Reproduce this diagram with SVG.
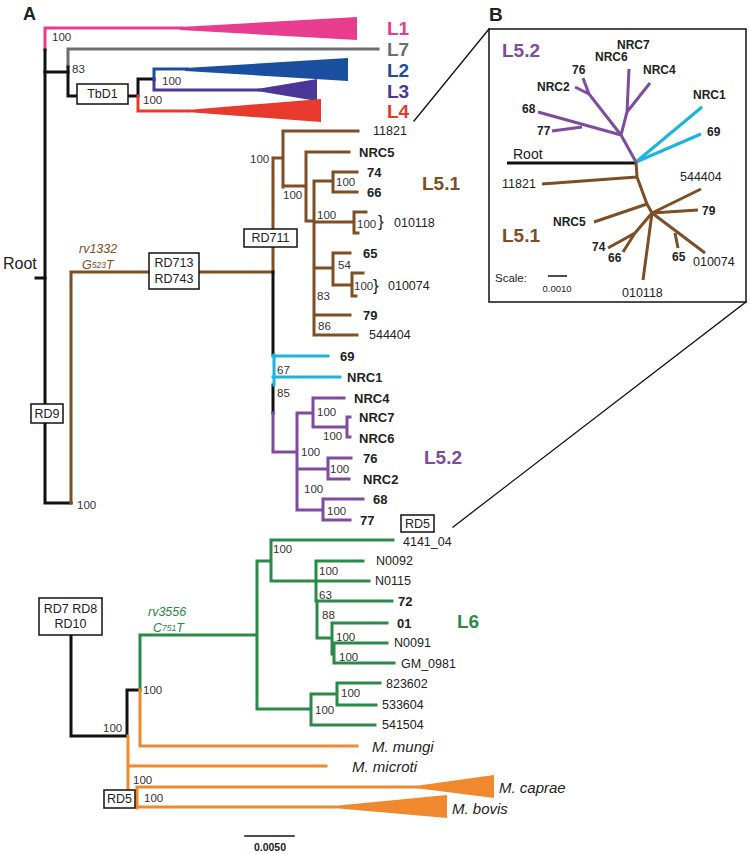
<svg xmlns="http://www.w3.org/2000/svg" width="750" height="854" viewBox="0 0 750 854">
<style>
text{font-family:"Liberation Sans",Arial,sans-serif;dominant-baseline:central;fill:#222}
.b{font-weight:bold;font-size:13px}
.r{font-size:12.5px}
.s{font-size:11.5px;fill:#333}
.lab{font-weight:bold;font-size:19px}
.it{font-style:italic;font-size:15px}
.mut{font-style:italic;font-size:12.5px}
.bx{fill:#fff;stroke:#111;stroke-width:1.5}
.bt{font-size:12.5px;text-anchor:middle}
.k{stroke:#111}
.p{stroke:#E83D8F}.g{stroke:#6D6E70}.bl{stroke:#1A4FA0}.ind{stroke:#4B3797}.rd{stroke:#E8392D}
.br{stroke:#7E4E24}.cy{stroke:#1DB3E0}.pu{stroke:#7F4B9E}.gr{stroke:#2A8A48}.or{stroke:#F0892D}
#connectors path{fill:none;stroke-width:3;stroke-linecap:square}
#inset path{fill:none;stroke-width:3;stroke-linecap:butt}
</style>

<text x="23" y="14" style="font-weight:bold;font-size:18px">A</text>
<text x="489" y="14" style="font-weight:bold;font-size:19px">B</text>

<!-- clade triangles -->
<g id="tri">
<polygon points="180,27 357,17 357,40 180,30" fill="#E83D8F"/>
<polygon points="185,68 348,58 348,81 185,71" fill="#1A4FA0"/>
<polygon points="257,89 317,79 317,101 257,91" fill="#4B3797"/>
<polygon points="187,110 321,99 321,122 187,112" fill="#E8392D"/>
<polygon points="415,786 494,775 494,798 415,788" fill="#F0892D"/>
<polygon points="333,806 447,795 447,818 333,808" fill="#F0892D"/>
</g>

<g id="connectors">
<!-- top lineages -->
<path class="p" d="M45,50 V28 H182"/>
<path class="k" d="M45,50 V503 H71"/>
<path class="k" d="M36,278 H45"/>
<path class="k" d="M45,72 H68"/>
<path class="g" d="M68,67 V49 H378"/>
<path class="k" d="M68,67 V96 H138 M138,96 V79 H154"/>
<path class="rd" d="M138,96 V111 H189"/>
<path class="bl" d="M154,80 V69 H187"/>
<path class="ind" d="M154,80 V90 H259"/>
<!-- L5 -->
<path class="br" d="M71,503 V272 H273 V158 H283 M283,131 V187 M283,131 H358 M283,186 H306 M306,152 V221 M306,152 H349 M306,221 H314 M314,181 V335 M314,181 H333 M333,172 V192 M333,172 H357 M333,192 H357 M314,222 H354 M354,212 V233 M354,212 H366 M354,233 H358 M314,268 H333 M333,253 V285 M333,253 H350 M333,285 H352 M352,273 V296 M352,273 H363 M352,296 H356 M314,315 H350 M314,335 H357"/>
<path class="k" d="M273,272 V355 M273,385 V413"/>
<path class="cy" d="M274,355 V385 M273,356 H328 M273,377 H340"/>
<path class="pu" d="M273,413 V452 H297 M297,413 V510 M297,413 H313 M313,398 V427 M313,398 H344 M313,427 H347 M347,417 V437 M347,417 H350 M347,437 H350 M297,469 H328 M328,458 V479 M328,458 H351 M328,479 H349 M297,510 H323 M323,499 V520 M323,499 H363 M323,520 H350"/>
<!-- lower -->
<path class="k" d="M71,635 V736 H127 V690 H140"/>
<path class="gr" d="M140,690 V635 H257 M257,561 V709 M257,561 H271 M271,540 V581 M271,540 H393 M271,581 H369 M316,561 V601 M316,561 H363 M316,601 H392 M317,601 V638 H332 M332,623 V654 M332,623 H387 M332,643 H387 M334,643 V663 H394 M257,709 H311 M311,694 V725 M311,694 H337 M337,683 V705 M337,683 H380 M337,705 H376 M311,725 H375"/>
<path class="or" d="M140,690 V746 H357 M128,736 V797 H137 M128,766 H326 M137,787 V808 M137,787 H417 M137,807 H335"/>
<!-- scale -->
<path class="k" style="stroke-width:1.5" d="M245,836 H294"/>
<!-- inset links -->
<path class="k" style="stroke-width:1.3" d="M489,29 L414,121 M746,302 L453,527"/>
</g>

<!-- top labels -->
<g id="n-top">
<text class="s" x="52" y="37">100</text>
<text class="s" x="72" y="69">83</text>
<text class="s" x="162" y="81">100</text>
<text class="s" x="143" y="100">100</text>
<text class="lab" x="387" y="28" fill="#E83D8F" style="fill:#E83D8F">L1</text>
<text class="lab" x="387" y="49" style="fill:#6D6E70">L7</text>
<text class="lab" x="387" y="70" style="fill:#1A4FA0">L2</text>
<text class="lab" x="387" y="91" style="fill:#4B3797">L3</text>
<text class="lab" x="387" y="111" style="fill:#E8392D">L4</text>
<text x="3" y="263" style="font-size:16px">Root</text>
</g>
<g id="box-tbd1"><rect class="bx" x="77" y="84" width="51" height="20"/><text class="bt" x="102.5" y="94">TbD1</text></g>
<g id="box-rd9"><rect class="bx" x="31" y="404" width="32" height="19"/><text class="bt" x="47" y="414">RD9</text></g>
<g id="box-rd713"><rect class="bx" x="149" y="253" width="50" height="36"/><text class="bt" x="174" y="263">RD713</text><text class="bt" x="174" y="279">RD743</text></g>
<g id="box-rd711"><rect class="bx" x="244" y="229" width="53" height="18"/><text class="bt" x="270.5" y="238">RD711</text></g>
<g id="box-rd7"><rect class="bx" x="39" y="598" width="63" height="37"/><text class="bt" x="70.5" y="609">RD7 RD8</text><text class="bt" x="70.5" y="624">RD10</text></g>
<g id="box-rd5a"><rect class="bx" x="401" y="515" width="33" height="17"/><text class="bt" x="417.5" y="523.5">RD5</text></g>
<g id="box-rd5b"><rect class="bx" x="104" y="790" width="31" height="18"/><text class="bt" x="119.5" y="799">RD5</text></g>

<g id="mut">
<text class="mut" x="79" y="249" style="fill:#7E4E24">rv1332</text>
<text class="mut" x="82" y="265" style="fill:#7E4E24">G<tspan style="font-size:8.5px">523</tspan>T</text>
<text class="mut" x="148" y="612" style="fill:#2A8A48">rv3556</text>
<text class="mut" x="153" y="628" style="fill:#2A8A48">C<tspan style="font-size:8.5px">751</tspan>T</text>
</g>

<g id="n-l51">
<text class="s" x="77" y="505">100</text>
<text class="s" x="250" y="159">100</text>
<text class="r" x="373" y="131">11821</text>
<text class="b" x="359" y="152">NRC5</text>
<text class="s" x="283" y="195">100</text>
<text class="b" x="367" y="172">74</text>
<text class="b" x="367" y="192">66</text>
<text class="s" x="336" y="182">100</text>
<text class="s" x="317" y="215">100</text>
<text class="s" x="357" y="224">100</text>
<text x="378" y="221" style="font-size:17px">}</text>
<text class="r" x="394" y="223">010118</text>
<text class="b" x="363" y="253">65</text>
<text class="s" x="338" y="265">54</text>
<text class="s" x="354" y="286">100</text>
<text x="373" y="285" style="font-size:17px">}</text>
<text class="r" x="388" y="286">010074</text>
<text class="s" x="317" y="296">83</text>
<text class="b" x="363" y="315">79</text>
<text class="s" x="318" y="326">86</text>
<text class="r" x="369" y="335">544404</text>
<text class="lab" x="422" y="183" style="fill:#7E4E24">L5.1</text>
</g>
<g id="n-cy">
<text class="b" x="340" y="356">69</text>
<text class="b" x="347" y="377">NRC1</text>
<text class="s" x="277" y="370">67</text>
<text class="s" x="277" y="393">85</text>
</g>
<g id="n-l52">
<text class="b" x="354" y="398">NRC4</text>
<text class="b" x="359" y="417">NRC7</text>
<text class="b" x="359" y="438">NRC6</text>
<text class="s" x="317" y="412">100</text>
<text class="s" x="323" y="436">100</text>
<text class="s" x="301" y="452">100</text>
<text class="b" x="363" y="458">76</text>
<text class="b" x="363" y="479">NRC2</text>
<text class="s" x="330" y="469">100</text>
<text class="s" x="304" y="489">100</text>
<text class="b" x="373" y="499">68</text>
<text class="b" x="360" y="520">77</text>
<text class="s" x="327" y="511">100</text>
<text class="lab" x="424" y="457" style="fill:#7F4B9E">L5.2</text>
</g>
<g id="n-l6">
<text class="r" x="403" y="542">4141_04</text>
<text class="s" x="273" y="549">100</text>
<text class="r" x="376" y="561">N0092</text>
<text class="r" x="375" y="581">N0115</text>
<text class="s" x="319" y="571">100</text>
<text class="b" x="398" y="601">72</text>
<text class="s" x="319" y="595">63</text>
<text class="s" x="322" y="615">88</text>
<text class="b" x="397" y="623">01</text>
<text class="r" x="394" y="643">N0091</text>
<text class="s" x="336" y="637">100</text>
<text class="r" x="401" y="664">GM_0981</text>
<text class="s" x="339" y="657">100</text>
<text class="r" x="386" y="684">823602</text>
<text class="r" x="382" y="705">533604</text>
<text class="r" x="382" y="725">541504</text>
<text class="s" x="341" y="693">100</text>
<text class="s" x="315" y="710">100</text>
<text class="lab" x="457" y="621" style="fill:#2A8A48">L6</text>
<text class="s" x="143" y="690">100</text>
</g>
<g id="n-anim">
<text class="s" x="103" y="728">100</text>
<text class="s" x="133" y="780">100</text>
<text class="s" x="144" y="798">100</text>
<text class="it" x="372" y="746">M. mungi</text>
<text class="it" x="352" y="766">M. microti</text>
<text class="it" x="499" y="787">M. caprae</text>
<text class="it" x="452" y="808">M. bovis</text>
<text x="270" y="847" style="font-size:10.5px;font-weight:bold;text-anchor:middle">0.0050</text>
</g>

<!-- inset B -->
<g id="inset">
<rect x="489" y="29" width="257" height="273" fill="#fff" stroke="#111" stroke-width="1.5"/>
<path class="k" d="M507,163 H637"/>
<path class="cy" d="M636,162 L702,107 M636,162 L701,134"/>
<path class="pu" d="M636,162 L621,135 L627,112 L629,69 M627,112 L650,83 M621,135 L589,94 L583,78 M589,94 L575,87 M621,135 L538,112 M582,127 L552,131"/>
<path class="br" d="M636,162 L637,177 L647,204 L652,213 M637,177 L542,184 M647,204 L594,222 M652,213 L701,189 M652,213 L698,210 M652,213 L705,253 M675,233 L678,248 M652,213 L643,280 M652,213 L635,233 L608,248 M635,233 L623,252"/>
<path class="k" style="stroke-width:1.5" d="M548,276 H567"/>
<text x="513" y="154" style="font-size:14px">Root</text>
<text class="lab" x="502" y="50" style="fill:#7F4B9E">L5.2</text>
<text class="lab" x="502" y="235" style="fill:#7E4E24">L5.1</text>
<text class="b" x="617" y="45" style="font-size:12px">NRC7</text>
<text class="b" x="595" y="57" style="font-size:12px">NRC6</text>
<text class="b" x="643" y="70" style="font-size:12px">NRC4</text>
<text class="b" x="572" y="70" style="font-size:12px">76</text>
<text class="b" x="537" y="87" style="font-size:12px">NRC2</text>
<text class="b" x="522" y="109" style="font-size:12px">68</text>
<text class="b" x="537" y="131" style="font-size:12px">77</text>
<text class="b" x="693" y="95" style="font-size:12px">NRC1</text>
<text class="b" x="707" y="132" style="font-size:12px">69</text>
<text class="r" x="502" y="184">11821</text>
<text class="r" x="680" y="177">544404</text>
<text class="b" x="702" y="211" style="font-size:12px">79</text>
<text class="b" x="553" y="222" style="font-size:12px">NRC5</text>
<text class="b" x="592" y="247" style="font-size:12px">74</text>
<text class="b" x="608" y="258" style="font-size:12px">66</text>
<text class="b" x="672" y="257" style="font-size:12px">65</text>
<text class="r" x="693" y="262">010074</text>
<text class="r" x="622" y="293">010118</text>
<text x="495" y="278" style="font-size:11.5px">Scale:</text>
<text x="557" y="288" style="font-size:9.5px;text-anchor:middle">0.0010</text>
</g>
</svg>
